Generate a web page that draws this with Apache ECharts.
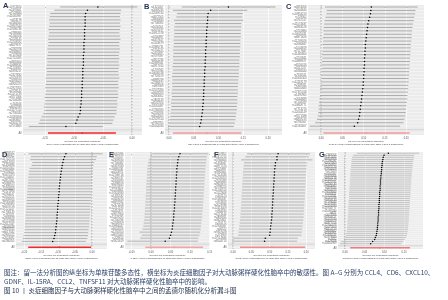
<!DOCTYPE html>
<html>
<head>
<meta charset="utf-8">
<script src="https://cdn.jsdelivr.net/npm/echarts@6/dist/echarts.min.js"></script>
<style>
html, body { margin: 0; padding: 0; background: #fff; }
#chart { width: 448px; height: 300px; }
</style>
</head>
<body>
<div id="chart"></div>
<script>
// leave-one-out estimates, top row first; "All" = [estimate, lower, upper]
const snpA = 'rs10774624 rs2476601 rs7528684 rs11065987 rs653178 rs3184504 rs10947540 rs17696736 rs4788084 rs1260326 rs2228145 rs12203592 rs6679677 rs2282978 rs9268853 rs7137828 rs12722495 rs4845604 rs10488631 rs11203367 rs1893217 rs2327832 rs7020673 rs3093023 rs6920220 rs12927355 rs4728142 rs11171739 rs9271366 rs2104286 rs744166 rs8032939 rs13277113 rs2736340 rs10181656 rs4363657 rs1801274 rs7574865'.split(' ');
const estA = [-0.059,-0.077,-0.080,-0.081,-0.081,-0.081,-0.081,-0.082,-0.082,-0.082,-0.082,-0.083,-0.083,-0.083,-0.083,-0.084,-0.084,-0.084,-0.084,-0.085,-0.085,-0.085,-0.085,-0.086,-0.086,-0.086,-0.087,-0.087,-0.087,-0.088,-0.088,-0.089,-0.089,-0.090,-0.093,-0.095,-0.097,-0.114];
const loA = [-0.124,-0.134,-0.141,-0.142,-0.143,-0.142,-0.143,-0.144,-0.143,-0.144,-0.145,-0.144,-0.145,-0.146,-0.145,-0.146,-0.147,-0.146,-0.147,-0.148,-0.147,-0.148,-0.149,-0.148,-0.149,-0.150,-0.149,-0.150,-0.151,-0.150,-0.151,-0.152,-0.151,-0.153,-0.156,-0.159,-0.161,-0.178];
const hiA = [0.009,-0.019,-0.020,-0.021,-0.020,-0.021,-0.020,-0.021,-0.022,-0.021,-0.020,-0.022,-0.022,-0.021,-0.022,-0.023,-0.022,-0.023,-0.022,-0.023,-0.024,-0.023,-0.022,-0.024,-0.024,-0.023,-0.025,-0.024,-0.024,-0.026,-0.025,-0.026,-0.027,-0.027,-0.030,-0.032,-0.034,-0.050];
const allA = [-0.086, -0.145, -0.028];

const snpB = 'rs1321057 rs2069235 rs12569744 rs4672505 rs9936833 rs7708392 rs1050501 rs2070197 rs10912578 rs4240897 rs6457617 rs1143679 rs13385731 rs5754217 rs2431697 rs7097397 rs3821236 rs11889341 rs4917014 rs1270942 rs10036748 rs7726159 rs6889239 rs2286672 rs887369 rs12537284 rs4649203 rs2663052 rs1801133 rs6532924 rs10516487 rs17266594 rs2230926 rs3024505 rs12529514 rs9782955 rs11644034'.split(' ');
const estB = [0.120,0.084,0.079,0.078,0.078,0.077,0.077,0.076,0.076,0.076,0.075,0.075,0.075,0.074,0.074,0.074,0.073,0.073,0.073,0.072,0.072,0.072,0.071,0.071,0.071,0.070,0.070,0.070,0.069,0.069,0.068,0.068,0.067,0.066,0.065,0.064,0.062];
const loB = [0.026,0.008,0.016,0.015,0.010,0.012,0.011,0.010,0.011,0.010,0.009,0.010,0.009,0.008,0.009,0.008,0.009,0.008,0.007,0.008,0.007,0.006,0.007,0.006,0.007,0.006,0.005,0.006,0.005,0.004,0.005,0.004,0.003,0.003,0.001,0.000,-0.002];
const hiB = [0.215,0.158,0.149,0.148,0.150,0.146,0.146,0.145,0.145,0.145,0.144,0.144,0.144,0.143,0.143,0.143,0.142,0.142,0.142,0.141,0.141,0.141,0.140,0.140,0.139,0.139,0.139,0.138,0.138,0.138,0.137,0.137,0.136,0.135,0.134,0.133,0.131];
const allB = [0.076, 0.008, 0.146];

const snpC = 'rs4853458 rs2004640 rs10954213 rs729302 rs3747517 rs11574637 rs4963128 rs2241880 rs10045431 rs6871626 rs11209026 rs2066847 rs1004819 rs7517847 rs11465804 rs2201841 rs10889677 rs6556416 rs3212227 rs1884444 rs7530511 rs11805303 rs12119179 rs2289311 rs4655683 rs17375018 rs1495965 rs2064689 rs7134599 rs10863771 rs7713270 rs12044149 rs9271588 rs6859219 rs3790567 rs11581607'.split(' ');
const estC = [0.118,0.117,0.116,0.114,0.112,0.110,0.109,0.108,0.107,0.106,0.105,0.104,0.104,0.103,0.103,0.102,0.102,0.102,0.101,0.101,0.100,0.100,0.099,0.099,0.098,0.097,0.096,0.095,0.094,0.093,0.092,0.091,0.090,0.088,0.086,0.078];
const loC = [0.009,0.013,0.012,0.010,0.008,0.007,0.006,0.005,0.006,0.004,0.005,0.003,0.004,0.003,0.002,0.003,0.002,0.001,0.002,0.001,0.000,0.001,0.000,-0.001,-0.002,-0.001,-0.003,-0.004,-0.005,-0.006,-0.006,-0.007,-0.008,-0.010,-0.014,-0.027];
const hiC = [0.227,0.222,0.221,0.219,0.218,0.216,0.215,0.214,0.213,0.213,0.212,0.211,0.211,0.210,0.210,0.209,0.209,0.208,0.208,0.207,0.207,0.206,0.206,0.205,0.205,0.204,0.203,0.203,0.202,0.201,0.200,0.199,0.198,0.196,0.194,0.186];
const allC = [0.106, 0.005, 0.208];

const snpD = 'rs9858542 rs2188962 rs11742570 rs4613763 rs1456896 rs10210302 rs12994997 rs3197999 rs17234657 rs2872507 rs9286879 rs1398024 rs10758669 rs7927894 rs3764147 rs2542151 rs4409764 rs11584383 rs2076756 rs17221417 rs1736135 rs762421 rs2836878 rs1551398 rs12612347 rs8049439 rs3091315 rs6017342 rs2945412 rs2024092 rs4780355'.split(' ');
const estD = [-0.077,-0.081,-0.084,-0.086,-0.088,-0.089,-0.091,-0.092,-0.093,-0.094,-0.095,-0.096,-0.097,-0.097,-0.098,-0.099,-0.099,-0.100,-0.101,-0.101,-0.102,-0.103,-0.103,-0.104,-0.105,-0.106,-0.107,-0.108,-0.110,-0.112,-0.116];
const loD = [-0.187,-0.180,-0.182,-0.176,-0.178,-0.184,-0.186,-0.187,-0.188,-0.188,-0.189,-0.190,-0.190,-0.191,-0.191,-0.192,-0.193,-0.193,-0.194,-0.194,-0.195,-0.196,-0.196,-0.197,-0.198,-0.198,-0.199,-0.200,-0.202,-0.204,-0.207];
const hiD = [0.031,0.014,0.012,0.006,0.004,0.003,0.002,0.001,0.001,0.000,-0.001,-0.001,-0.002,-0.002,-0.003,-0.003,-0.004,-0.004,-0.005,-0.005,-0.006,-0.006,-0.007,-0.007,-0.008,-0.009,-0.010,-0.011,-0.012,-0.014,-0.018];
const allD = [-0.097, -0.188, -0.003];

const snpE = 'rs6062496 rs11755527 rs2309180 rs7746082 rs1819333 rs10865331 rs4243971 rs12708716 rs2300747 rs1800693 rs6498169 rs10201872 rs11154801 rs17824933 rs1335532 rs3118470 rs6897932 rs2371108 rs12212193 rs4410871 rs9657904 rs11129295 rs7200786 rs2248359 rs10984447 rs6604026 rs1250550 rs8070463 rs228614 rs9321619'.split(' ');
const estE = [0.074,0.071,0.069,0.068,0.067,0.066,0.066,0.065,0.065,0.064,0.064,0.063,0.063,0.062,0.062,0.061,0.061,0.060,0.060,0.059,0.058,0.058,0.057,0.056,0.055,0.054,0.052,0.050,0.047,0.036];
const loE = [0.003,-0.002,-0.006,-0.008,-0.009,-0.010,-0.010,-0.011,-0.011,-0.012,-0.012,-0.013,-0.013,-0.013,-0.014,-0.014,-0.015,-0.015,-0.016,-0.016,-0.017,-0.017,-0.018,-0.019,-0.020,-0.022,-0.030,-0.024,-0.028,-0.061];
const hiE = [0.146,0.143,0.142,0.141,0.140,0.139,0.139,0.138,0.138,0.137,0.137,0.136,0.136,0.135,0.135,0.134,0.134,0.133,0.133,0.132,0.131,0.131,0.130,0.129,0.128,0.127,0.126,0.124,0.121,0.120];
const allE = [0.059, -0.015, 0.133];

const snpF = 'rs2107852 rs10411210 rs3766606 rs1333047 rs4977574 rs6725887 rs9982601 rs17114036 rs12526453 rs2505083 rs9818870 rs3798220 rs11206510 rs1122608 rs501120 rs17465637 rs974819 rs2023938 rs12413409 rs964184 rs4773144 rs2895811 rs3825807 rs216172 rs12936587 rs46522 rs9319428 rs273909 rs17514846 rs6544713'.split(' ');
const estF = [0.123,0.120,0.120,0.116,0.115,0.114,0.113,0.113,0.112,0.112,0.111,0.111,0.110,0.110,0.109,0.109,0.108,0.108,0.107,0.107,0.106,0.106,0.105,0.104,0.103,0.102,0.101,0.100,0.088,0.086];
const loF = [0.038,0.033,0.022,0.030,0.029,0.028,0.027,0.027,0.026,0.026,0.025,0.025,0.024,0.024,0.023,0.023,0.022,0.022,0.021,0.021,0.020,0.020,0.019,0.018,0.017,0.016,0.015,0.014,0.000,-0.002];
const hiF = [0.210,0.207,0.217,0.203,0.202,0.201,0.200,0.200,0.199,0.199,0.198,0.198,0.197,0.197,0.196,0.196,0.195,0.195,0.194,0.194,0.193,0.193,0.192,0.191,0.190,0.189,0.188,0.187,0.177,0.175];
const allF = [0.106, 0.019, 0.197];

const snpG = 'rs10757278 rs2383206 rs1412444 rs6903956 rs12190287 rs2047009 rs11556924 rs4252120 rs2954029 rs579459 rs7692387 rs1878406 rs4932178 rs11833579 rs12425791 rs2200733 rs6843082 rs879324 rs2634074 rs10033464 rs556621 rs12122341 rs1537378 rs4959130 rs7193343 rs2107595 rs12204590 rs10744777 rs11066280 rs671 rs2074356 rs7859727 rs1537370 rs9349379 rs4977756 rs12740374 rs2075650 rs6511720 rs3846662 rs1800961 rs11591147 rs2479409 rs7412 rs429358 rs10401969'.split(' ');
const estG = [0.110,0.099,0.097,0.096,0.095,0.094,0.094,0.093,0.093,0.092,0.092,0.091,0.091,0.090,0.090,0.090,0.089,0.089,0.089,0.088,0.088,0.088,0.087,0.087,0.087,0.086,0.086,0.086,0.085,0.085,0.085,0.084,0.084,0.084,0.083,0.083,0.082,0.082,0.081,0.080,0.079,0.077,0.075,0.070,0.065];
const loG = [0.030,0.020,0.018,0.017,0.016,0.016,0.015,0.015,0.014,0.014,0.013,0.013,0.013,0.012,0.012,0.012,0.011,0.011,0.011,0.010,0.010,0.010,0.010,0.009,0.009,0.009,0.008,0.008,0.008,0.008,0.007,0.007,0.007,0.006,0.006,0.006,0.005,0.005,0.004,0.003,0.002,0.000,-0.003,-0.010,-0.013];
const hiG = [0.188,0.176,0.175,0.174,0.173,0.172,0.172,0.171,0.171,0.170,0.170,0.169,0.169,0.168,0.168,0.168,0.167,0.167,0.167,0.166,0.166,0.166,0.165,0.165,0.165,0.164,0.164,0.164,0.163,0.163,0.163,0.162,0.162,0.162,0.161,0.161,0.160,0.160,0.159,0.158,0.157,0.155,0.152,0.148,0.143];
const allG = [0.088, 0.013, 0.165];

const ticksNeg = [-0.20, -0.15, -0.10, -0.05, 0.00];
const ticksE = [-0.05, 0.00, 0.05, 0.10, 0.15];
const ticksPos = [0.00, 0.05, 0.10, 0.15, 0.20];

const caption1 = '图注：留一法分析图的纵坐标为单核苷酸多态性，横坐标为炎症细胞因子对大动脉粥样硬化性脑卒中的敏感性。图 A–G 分别为 CCL4、CD6、CXCL10、';
const caption2 = 'GDNF、IL-15RA、CCL2、TNFSF11 对大动脉粥样硬化性脑卒中的影响。';
const caption3 = '图 10 丨 炎症细胞因子与大动脉粥样硬化性脑卒中之间的孟德尔随机化分析漏斗图';

const panels = [
    { tag: 'A', exp: 'CCL4 || id:ebi-a-GCST90274781', snps: snpA, est: estA, lo: loA, hi: hiA, all: allA, ticks: ticksNeg,
      box: [23, 5, 119, 130], range: [-0.188, 0.017], red: '#ee2b2b', tagPos: [3, 2], bar: 0.9 },
    { tag: 'B', exp: 'CD6 || id:ebi-a-GCST90274783', snps: snpB, est: estB, lo: loB, hi: hiB, all: allB, ticks: ticksPos,
      box: [165, 5, 117, 130], range: [-0.008, 0.228], red: '#f39a9a', tagPos: [144, 3], bar: 0.9 },
    { tag: 'C', exp: 'CXCL10 || id:ebi-a-GCST90274787', snps: snpC, est: estC, lo: loC, hi: hiC, all: allC, ticks: ticksPos,
      box: [308, 5, 116, 130], range: [-0.031, 0.242], red: '#f39a9a', tagPos: [286, 3], bar: 0.9 },
    { tag: 'D', exp: 'GDNF || id:ebi-a-GCST90274797', snps: snpD, est: estD, lo: loD, hi: hiD, all: allD, ticks: ticksNeg,
      box: [16, 152, 91, 97], range: [-0.224, 0.044], red: '#ee2b2b', tagPos: [2, 151], bar: 0.8 },
    { tag: 'E', exp: 'IL-15RA || id:ebi-a-GCST90274807', snps: snpE, est: estE, lo: loE, hi: hiE, all: allE, ticks: ticksE,
      box: [125, 152, 85, 97], range: [-0.067, 0.151], red: '#f5a3a3', tagPos: [109, 151], bar: 0.8 },
    { tag: 'F', exp: 'CCL2 || id:ebi-a-GCST90274774', snps: snpF, est: estF, lo: loF, hi: hiF, all: allF, ticks: ticksPos,
      box: [228, 152, 87, 97], range: [-0.014, 0.224], red: '#f28c8c', tagPos: [214, 151], bar: 0.8 },
    { tag: 'G', exp: 'TNFSF11 || id:ebi-a-GCST90274836', snps: snpG, est: estG, lo: loG, hi: hiG, all: allG, ticks: ticksPos,
      box: [338, 152, 85, 97], range: [-0.018, 0.198], red: '#f27a7a', tagPos: [319, 151], bar: 0.6 }
];

const grids = [], xAxes = [], yAxes = [], series = [], graphics = [];

// background layer: white row lines, grey separator row, dashed zero line
function renderBack(params, api) {
    const cs = params.coordSys;
    const kind = api.value(1);
    if (kind === 3) {
        const x0 = api.coord([0, 0])[0];
        return {
            type: 'line', shape: { x1: x0, y1: cs.y, x2: x0, y2: cs.y + cs.height },
            style: { stroke: '#8a8a8a', lineWidth: 0.6, lineDash: [1.5, 1.5] }
        };
    }
    const y = api.coord([0, api.value(0)])[1];
    return {
        type: 'line', shape: { x1: cs.x, y1: y, x2: cs.x + cs.width, y2: y },
        style: { stroke: kind === 2 ? '#c4c4c4' : '#ffffff', lineWidth: 0.5 }
    };
}

panels.forEach((p, k) => {
    const n = p.est.length;
    const cats = p.snps.slice(0, n).concat(['', 'All']);
    const idx = cats.map((c, i) => i);
    const rows = p.est.map((e, i) => [e, p.lo[i], p.hi[i], i, 0]);
    rows.push([p.all[0], p.all[1], p.all[2], n + 1, 1]);
    const back = idx.map(i => [i, i === n ? 2 : 0]);
    back.push([0, 3]);
    const xt = p.ticks.filter(v => v >= p.range[0] && v <= p.range[1]);

    grids.push({
        left: p.box[0], top: p.box[1], width: p.box[2], height: p.box[3],
        show: true, backgroundColor: '#ebebeb', borderWidth: 0, containLabel: false, outerBoundsMode: 'none'
    });
    xAxes.push({
        type: 'value', gridIndex: k, min: p.range[0], max: p.range[1],
        axisLine: { show: false },
        axisTick: { show: true, length: 1, lineStyle: { color: '#555', width: 0.5 }, customValues: xt },
        axisLabel: { fontSize: 2.6, color: '#555', margin: 1.5, customValues: xt, formatter: v => v.toFixed(2) },
        splitLine: { show: true, lineStyle: { color: '#fff', width: 0.7 } },
        name: 'MR leave-one-out sensitivity analysis for\n\'' + p.exp + '\' on \'Large artery stroke || id:ebi-a-GCST006907\'',
        nameLocation: 'middle', nameGap: p.box[1] > 100 ? 5 : 5.5,
        nameTextStyle: { fontSize: 2, lineHeight: 2.6, color: '#333' }
    });
    yAxes.push({
        type: 'value', gridIndex: k, inverse: true, min: -0.6, max: n + 1.6,
        axisLine: { show: false },
        axisTick: { show: true, length: 1, lineStyle: { color: '#666', width: 0.4 }, customValues: idx },
        axisLabel: { fontSize: 2.7, color: '#666', margin: 1.5, customValues: idx, formatter: v => cats[Math.round(v)] || '' },
        splitLine: { show: false }
    });
    series.push({
        type: 'custom', xAxisIndex: k, yAxisIndex: k, data: back, silent: true,
        encode: { y: 0 },
        renderItem: renderBack
    });
    series.push({
        type: 'custom', xAxisIndex: k, yAxisIndex: k, data: rows, silent: true,
        encode: { x: [0, 1, 2], y: 3 },
        renderItem: (params, api) => {
            const kind = api.value(4);
            const a = api.coord([api.value(1), api.value(3)]);
            const b = api.coord([api.value(2), api.value(3)]);
            const c = api.coord([api.value(0), api.value(3)]);
            return {
                type: 'group', children: [
                    { type: 'line', shape: { x1: a[0], y1: a[1], x2: b[0], y2: b[1] },
                      style: { stroke: kind === 1 ? p.red : '#a4a4a4', lineWidth: kind === 1 ? 1.4 : p.bar } },
                    { type: 'circle', shape: { cx: c[0], cy: c[1], r: kind === 1 ? 0.9 : 0.75 },
                      style: { fill: kind === 1 ? p.red : '#000' } }
                ]
            };
        }
    });
    graphics.push({
        type: 'text', left: p.tagPos[0], top: p.tagPos[1],
        style: { text: p.tag, fontSize: 7.5, fontWeight: 'bold', fontFamily: 'Liberation Sans', fill: '#1e2f52' }
    });
});

graphics.push({ type: 'text', left: 4, top: 269, style: { text: caption1, fontSize: 6.5, fontFamily: 'Noto Sans CJK SC', fill: '#2b3f66' } });
graphics.push({ type: 'text', left: 4, top: 278, style: { text: caption2, fontSize: 6.5, fontFamily: 'Noto Sans CJK SC', fill: '#2b3f66' } });
graphics.push({ type: 'text', left: 4, top: 287, style: { text: caption3, fontSize: 6.5, fontFamily: 'Noto Sans CJK SC', fill: '#1f2d4a' } });

const myChart = echarts.init(document.getElementById('chart'));
myChart.setOption({
    animation: false,
    backgroundColor: '#fff',
    grid: grids,
    xAxis: xAxes,
    yAxis: yAxes,
    series: series,
    graphic: graphics
});
</script>
</body>
</html>
